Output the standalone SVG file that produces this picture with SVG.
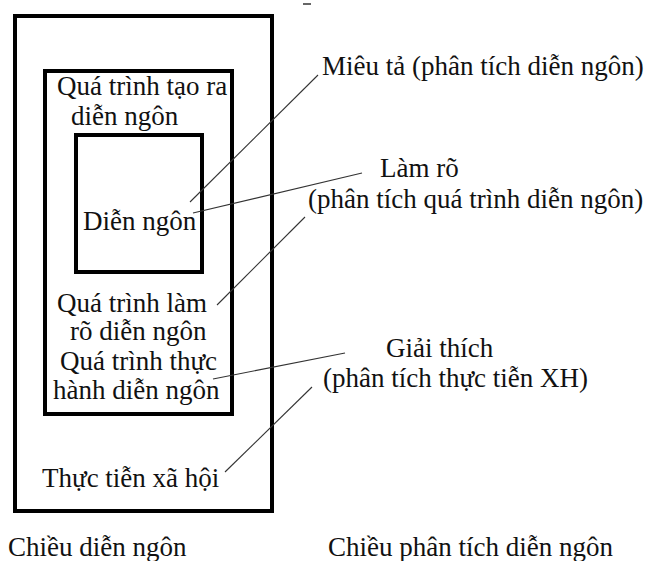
<svg xmlns="http://www.w3.org/2000/svg" width="647" height="561" viewBox="0 0 647 561">
<style>
.box{fill:none;stroke:#000;stroke-width:4}
.t{font-family:"Liberation Serif","Times New Roman",serif;font-size:27px;fill:#111}
.c{stroke:#333;stroke-width:1.1;fill:none}
</style>
<rect x="0" y="0" width="647" height="561" fill="#fff"/>
<rect x="303" y="3" width="8" height="2" fill="#666"/>
<g id="thuc-tien-xa-hoi">
<rect class="box" x="15" y="16" width="257" height="495"/>
<text class="t" x="42" y="487">Thực tiễn xã hội</text>
</g>
<g id="qua-trinh">
<rect class="box" x="45" y="71" width="187" height="343"/>
<text class="t" x="57" y="95">Quá trình tạo ra</text>
<text class="t" x="71" y="125">diễn ngôn</text>
<text class="t" x="57" y="312">Quá trình làm</text>
<text class="t" x="70" y="340">rõ diễn ngôn</text>
<text class="t" x="60" y="370">Quá trình thực</text>
<text class="t" x="53" y="399">hành diễn ngôn</text>
</g>
<g id="dien-ngon">
<rect class="box" x="76" y="135" width="126" height="137"/>
<text class="t" x="83" y="230">Diễn ngôn</text>
</g>
<g id="mieu-ta">
<text class="t" x="322" y="75">Miêu tả (phân tích diễn ngôn)</text>
</g>
<g id="lam-ro">
<text class="t" x="380" y="177">Làm rõ</text>
<text class="t" x="308" y="208">(phân tích quá trình diễn ngôn)</text>
</g>
<g id="giai-thich">
<text class="t" x="386" y="357">Giải thích</text>
<text class="t" x="323" y="387">(phân tích thực tiễn XH)</text>
</g>
<g id="labels">
<text class="t" x="8" y="556">Chiều diễn ngôn</text>
<text class="t" x="328" y="556">Chiều phân tích diễn ngôn</text>
</g>
<g id="connectors">
<line class="c" x1="318" y1="75" x2="190" y2="202"/>
<line class="c" x1="362" y1="173" x2="193" y2="213"/>
<line class="c" x1="305" y1="217" x2="217" y2="305"/>
<line class="c" x1="345" y1="353" x2="213" y2="379"/>
<line class="c" x1="312" y1="387" x2="225" y2="472"/>
</g>
</svg>
